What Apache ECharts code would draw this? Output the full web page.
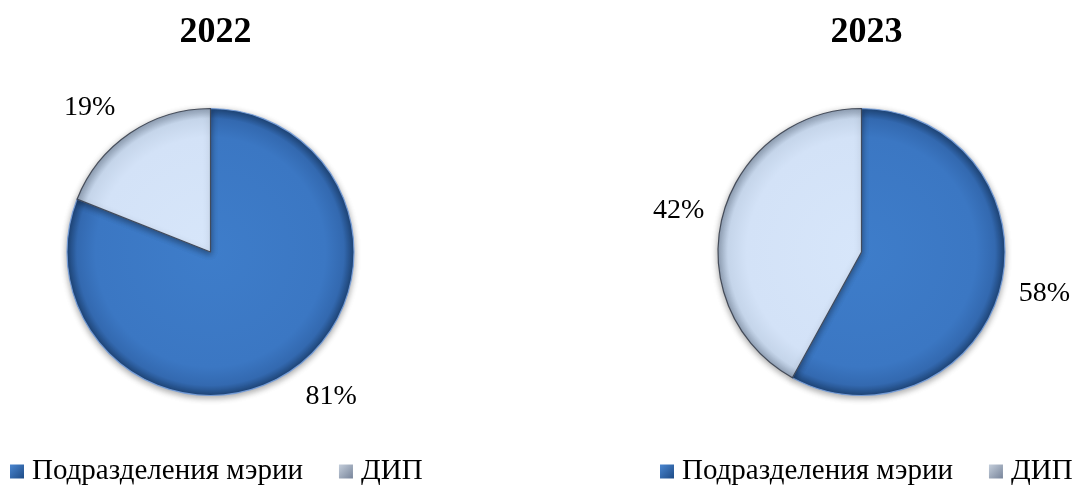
<!DOCTYPE html>
<html>
<head>
<meta charset="utf-8">
<script src="https://cdn.jsdelivr.net/npm/echarts@6/dist/echarts.min.js"></script>
<style>html,body{margin:0;padding:0;background:#fff}#c{width:1075px;height:486px}</style>
</head>
<body>
<div id="c"></div>
<script>
const years = ['2022', '2023'];
const categories = ['Подразделения мэрии', 'ДИП'];
const values2022 = [81, 19];
const values2023 = [58, 42];

const centers = [[210.5, 252], [861.5, 252]];
const R = 143.5;
const labelLens = [31, 22];
const FONT = '"Liberation Serif", "Times New Roman", serif';

function radial(cx, cy, stops) {
  return { type: 'radial', x: cx, y: cy, r: R, global: true,
    colorStops: stops.map(s => ({ offset: s[0], color: s[1] })) };
}
const darkStops = [[0, '#3E7DCA'], [0.8, '#3B77C3'], [0.93, '#3369B0'], [1, '#1F4679']];
const lightStops = [[0, '#D7E6FA'], [0.8, '#D3E2F7'], [0.93, '#C5D5EA'], [1, '#93A3B8']];

function makeSeries(idx, values) {
  const [cx, cy] = centers[idx];
  return {
    type: 'pie',
    center: [cx, cy],
    radius: R,
    startAngle: 90,
    clockwise: true,
    silent: true,
    animation: false,
    data: categories.map((name, i) => ({
      name: name,
      value: values[i],
      itemStyle: {
        color: radial(cx, cy, i === 0 ? darkStops : lightStops),
        borderColor: i === 0 ? 'rgba(120,160,220,0.9)' : 'rgba(50,58,72,0.85)',
        borderWidth: 1.2
      }
    })),
    itemStyle: {
      shadowBlur: 6,
      shadowColor: 'rgba(0,0,0,0.35)',
      shadowOffsetY: 2
    },
    label: {
      show: true,
      position: 'outside',
      formatter: '{c}%',
      fontFamily: FONT,
      fontSize: 28,
      color: '#000',
      overflow: 'none',
      distanceToLabelLine: -3
    },
    labelLine: { show: false, length: labelLens[idx], length2: 0 }
  };
}

const legendData = [
  { name: categories[0], itemStyle: { borderWidth: 0, color: { type: 'linear', x: 0, y: 0, x2: 1, y2: 1,
      colorStops: [{ offset: 0, color: '#4A86D0' }, { offset: 1, color: '#1E4B86' }] } } },
  { name: categories[1], itemStyle: { borderWidth: 0, color: { type: 'linear', x: 0, y: 0, x2: 1, y2: 1,
      colorStops: [{ offset: 0, color: '#C4CEDB' }, { offset: 1, color: '#77849A' }] } } }
];

function makeLegend(left) {
  return {
    left: left, top: 457, width: 416, orient: 'horizontal',
    icon: 'rect', itemWidth: 14, itemHeight: 14, itemGap: 36,
    selectedMode: false, padding: 0,
    textStyle: { fontFamily: FONT, fontSize: 29, color: '#000', padding: [0, 0, 0, 3] },
    data: legendData
  };
}

const chart = echarts.init(document.getElementById('c'), null, { renderer: 'canvas' });
chart.setOption({
  backgroundColor: '#fff',
  animation: false,
  title: years.map((y, i) => ({
    text: y, left: centers[i][0], top: 10, textAlign: 'center',
    textStyle: { fontFamily: FONT, fontWeight: 'bold', fontSize: 36, color: '#000' }
  })),
  legend: [makeLegend(10), makeLegend(660)],
  series: [makeSeries(0, values2022), makeSeries(1, values2023)]
});
</script>
</body>
</html>
